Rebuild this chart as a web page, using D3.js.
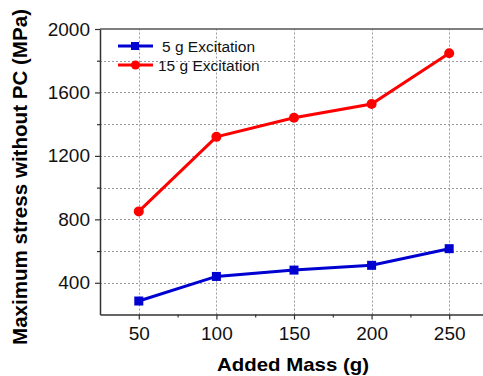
<!DOCTYPE html>
<html>
<head>
<meta charset="utf-8">
<script src="https://cdn.jsdelivr.net/npm/d3@7"></script>
<style>
  body { margin: 0; background: #fff; }
  svg { display: block; font-family: Arial, "Liberation Sans", sans-serif; }
</style>
</head>
<body>
<div id="chart"></div>
<script>
// Data
const addedMass = [50, 100, 150, 200, 250];
const stress5g = [285, 440, 480, 510, 615];
const stress15g = [850, 1320, 1440, 1527, 1847];
const xTicks = [50, 100, 150, 200, 250];
const yTicks = [400, 800, 1200, 1600, 2000];
const seriesNames = ["5 g Excitation", "15 g Excitation"];

const FRAME_WIDTH = 483;
const FRAME_HEIGHT = 376;
const MARGINS = {left: 100, top: 29, bottom: 61.5};
const PLOT_RIGHT = 488; // frame runs slightly past the window edge

const svg = d3.select("#chart")
  .append("svg")
    .attr("width", FRAME_WIDTH)
    .attr("height", FRAME_HEIGHT);

const x = d3.scaleLinear().domain([25, 275]).range([MARGINS.left, PLOT_RIGHT]);
const y = d3.scaleLinear().domain([200, 2000]).range([FRAME_HEIGHT - MARGINS.bottom, MARGINS.top]);

// grid: dotted, vertical at majors, horizontal at majors + minors
const gridCol = "#9a9a9a";
svg.append("g")
  .selectAll("line")
  .data(xTicks)
  .join("line")
    .attr("x1", d => Math.round(x(d)) + 0.5).attr("x2", d => Math.round(x(d)) + 0.5)
    .attr("y1", y(200)).attr("y2", y(2000))
    .attr("stroke", gridCol).attr("stroke-width", 1).attr("stroke-dasharray", "2,2");

svg.append("g")
  .selectAll("line")
  .data(d3.range(400, 2000, 200))
  .join("line")
    .attr("x1", x(25)).attr("x2", x(275))
    .attr("y1", d => Math.round(y(d)) + 0.5).attr("y2", d => Math.round(y(d)) + 0.5)
    .attr("stroke", gridCol).attr("stroke-width", 1).attr("stroke-dasharray", "2,2");

// top border
svg.append("line")
  .attr("x1", x(25)).attr("x2", x(275))
  .attr("y1", y(2000)).attr("y2", y(2000))
  .attr("stroke", "#555").attr("stroke-width", 1.5);

// axes
svg.append("g")
  .attr("transform", "translate(0," + y(200) + ")")
  .call(d3.axisBottom(x).tickValues(xTicks).tickSize(5).tickPadding(7).tickSizeOuter(0));
svg.append("g")
  .attr("transform", "translate(0," + y(200) + ")")
  .call(d3.axisBottom(x).tickValues(d3.range(75, 275, 50)).tickSize(3).tickFormat("").tickSizeOuter(0))
  .select(".domain").remove();

svg.append("g")
  .attr("transform", "translate(" + MARGINS.left + ",0)")
  .call(d3.axisLeft(y).tickValues(yTicks).tickSize(5).tickPadding(5).tickFormat(d3.format("d")).tickSizeOuter(0));
svg.append("g")
  .attr("transform", "translate(" + MARGINS.left + ",0)")
  .call(d3.axisLeft(y).tickValues(d3.range(600, 2000, 400)).tickSize(3).tickFormat("").tickSizeOuter(0))
  .select(".domain").remove();

svg.selectAll(".domain").attr("stroke", "#333").attr("stroke-width", 1.5);
svg.selectAll(".tick line").attr("stroke", "#333").attr("stroke-width", 1.2);
svg.selectAll(".tick text").attr("font-size", "19px").attr("fill", "#111")
  .attr("font-family", "Arial, 'Liberation Sans', sans-serif");

// axis titles
svg.append("text")
  .attr("x", 293).attr("y", 370.5)
  .attr("text-anchor", "middle")
  .attr("font-size", "19px").attr("font-weight", "bold")
  .attr("textLength", 152).attr("lengthAdjust", "spacingAndGlyphs")
  .text("Added Mass (g)");

svg.append("text")
  .attr("transform", "translate(27,177) rotate(-90)")
  .attr("text-anchor", "middle")
  .attr("font-size", "20.5px").attr("font-weight", "bold")
  .attr("textLength", 336).attr("lengthAdjust", "spacingAndGlyphs")
  .text("Maximum stress without PC (MPa)");

// series
const line = d3.line().x((d, i) => x(addedMass[i])).y(d => y(d));

svg.append("path").datum(stress5g)
  .attr("d", line).attr("fill", "none")
  .attr("stroke", "#0000d0").attr("stroke-width", 3);
svg.selectAll("rect.pt5")
  .data(stress5g)
  .join("rect")
    .attr("class", "pt5")
    .attr("x", (d, i) => x(addedMass[i]) - 4.5)
    .attr("y", d => y(d) - 4.5)
    .attr("width", 9).attr("height", 9)
    .attr("fill", "#0000d0");

svg.append("path").datum(stress15g)
  .attr("d", line).attr("fill", "none")
  .attr("stroke", "#ff0000").attr("stroke-width", 3);
svg.selectAll("circle.pt15")
  .data(stress15g)
  .join("circle")
    .attr("class", "pt15")
    .attr("cx", (d, i) => x(addedMass[i]))
    .attr("cy", d => y(d))
    .attr("r", 5)
    .attr("fill", "#ff0000");

// legend
const legend = svg.append("g");
const legendY = [46, 65];
const legendCol = ["#0000d0", "#ff0000"];
legend.selectAll("line")
  .data(seriesNames)
  .join("line")
    .attr("x1", 118).attr("x2", 153)
    .attr("y1", (d, i) => legendY[i]).attr("y2", (d, i) => legendY[i])
    .attr("stroke", (d, i) => legendCol[i]).attr("stroke-width", 3);
legend.append("rect")
  .attr("x", 131).attr("y", legendY[0] - 4).attr("width", 8).attr("height", 8)
  .attr("fill", legendCol[0]);
legend.append("circle")
  .attr("cx", 135.5).attr("cy", legendY[1]).attr("r", 4.5)
  .attr("fill", legendCol[1]);
legend.selectAll("text")
  .data(seriesNames)
  .join("text")
    .attr("x", (d, i) => i === 0 ? 162 : 158)
    .attr("y", (d, i) => legendY[i] + 5.5)
    .attr("font-size", "15.5px").attr("fill", "#111")
    .text(d => d);
</script>
</body>
</html>
